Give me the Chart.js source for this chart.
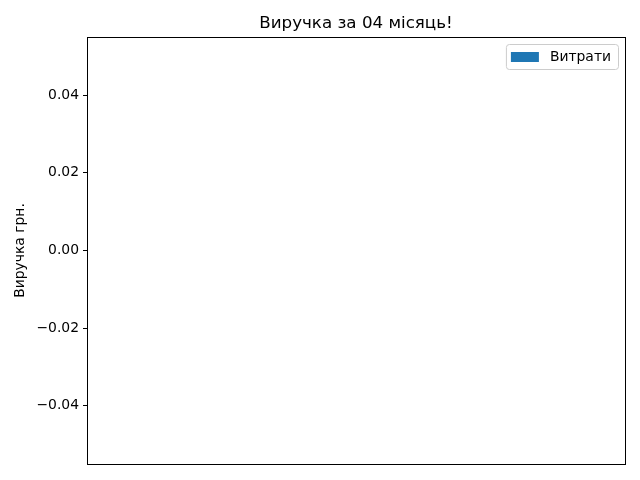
<!DOCTYPE html>
<html>
<head>
<meta charset="utf-8">
<script src="https://cdn.jsdelivr.net/npm/chart.js@4/dist/chart.umd.min.js"></script>
<style>
  html, body { margin: 0; padding: 0; background: #fff; }
  #wrap { width: 640px; height: 480px; }
</style>
</head>
<body>
<div id="wrap"><canvas id="c" width="640" height="480"></canvas></div>
<script>
const titleText = "Виручка за 04 місяць!";
const yAxisTitle = "Виручка грн.";
const seriesLabel = "Витрати";
const categories = [];
const expenses = [];
const yTicks = [-0.04, -0.02, 0.00, 0.02, 0.04];
const yMin = -0.055;
const yMax = 0.055;

const FONT = "'DejaVu Sans', sans-serif";
Chart.defaults.font.family = FONT;
Chart.defaults.color = "#000";

const framePlugin = {
  id: "frame",
  afterDraw(chart) {
    const ctx = chart.ctx;
    const a = chart.chartArea;
    ctx.save();
    // spines
    ctx.strokeStyle = "#000";
    ctx.lineWidth = 1;
    ctx.strokeRect(Math.round(a.left) + 0.5, Math.round(a.top) + 0.5,
                   Math.round(a.right - a.left), Math.round(a.bottom - a.top));
    // title
    ctx.fillStyle = "#000";
    ctx.font = "16.7px " + FONT;
    ctx.textAlign = "center";
    ctx.textBaseline = "alphabetic";
    ctx.fillText(titleText, (a.left + a.right) / 2, a.top - 9);
    // legend
    const ds = chart.data.datasets[0];
    ctx.font = "13.9px " + FONT;
    const tw = ctx.measureText(ds.label).width;
    const bw = 5 + 28 + 11 + tw + 7;
    const bh = 25;
    const bx = a.right - 7 - bw;
    const by = a.top + 7;
    ctx.beginPath();
    if (ctx.roundRect) ctx.roundRect(bx + 0.5, by + 0.5, bw, bh, 3);
    else ctx.rect(bx + 0.5, by + 0.5, bw, bh);
    ctx.fillStyle = "rgba(255,255,255,0.8)";
    ctx.fill();
    ctx.strokeStyle = "#cccccc";
    ctx.stroke();
    ctx.fillStyle = ds.backgroundColor;
    ctx.fillRect(bx + 5, by + 8, 28, 10);
    ctx.fillStyle = "#000";
    ctx.textAlign = "left";
    ctx.textBaseline = "middle";
    ctx.fillText(ds.label, bx + 44, by + 13);
    ctx.restore();
  }
};

new Chart(document.getElementById("c"), {
  type: "bar",
  data: {
    labels: categories,
    datasets: [{
      label: seriesLabel,
      data: expenses,
      backgroundColor: "#1f77b4"
    }]
  },
  plugins: [framePlugin],
  options: {
    responsive: false,
    animation: false,
    devicePixelRatio: 1,
    layout: { padding: { left: 0, right: 15, top: 37, bottom: 8 } },
    plugins: {
      legend: { display: false },
      title: { display: false },
      tooltip: { enabled: false }
    },
    scales: {
      x: {
        display: true,
        grid: { display: false },
        ticks: { display: false },
        border: { display: true, color: "#000" }
      },
      y: {
        min: yMin,
        max: yMax,
        afterBuildTicks(scale) {
          scale.ticks = yTicks.map(v => ({ value: v }));
        },
        afterFit(scale) { scale.width = 87; },
        grid: { drawOnChartArea: false, drawTicks: true, tickLength: 4, color: "#000" },
        border: { display: true, color: "#000" },
        ticks: {
          padding: 4,
          font: { size: 13.9 },
          color: "#000",
          callback(v) {
            const s = Math.abs(v).toFixed(2);
            return v < 0 ? "\u2212" + s : s;
          }
        },
        title: {
          display: true,
          text: yAxisTitle,
          font: { size: 13.9 },
          color: "#000",
          padding: { top: 12, bottom: 0 }
        }
      }
    }
  }
});
</script>
</body>
</html>
